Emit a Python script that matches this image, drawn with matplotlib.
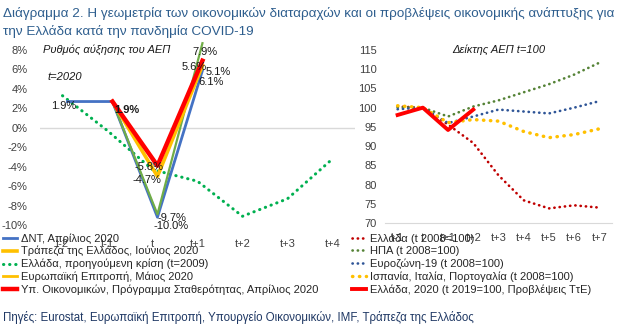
import matplotlib
matplotlib.use("Agg")
import matplotlib.pyplot as plt
from matplotlib.lines import Line2D
import numpy as np

plt.rcParams['font.family'] = ['Liberation Sans', 'DejaVu Sans']

# ---------------- data ----------------
left_cats = ["t-2", "t-1", "t", "t+1", "t+2", "t+3", "t+4"]
imf = [1.9, 1.9, -10.0, 5.1]
bog = [np.nan, 1.9, -5.8, 5.6]
ec = [np.nan, 1.9, -9.7, 7.9]
minfin = [np.nan, 1.9, -4.7, 6.1]
gr_prev = [3.3, -0.3, -4.3, -5.5, -9.1, -7.3, -3.2]

right_cats = ["t-1", "t", "t+1", "t+2", "t+3", "t+4", "t+5", "t+6", "t+7"]
gr_2008 = [100.3, 100.0, 95.6, 90.8, 82.4, 75.9, 73.8, 74.6, 74.0]
usa_2008 = [100.1, 100.0, 97.7, 100.3, 101.9, 104.0, 106.1, 108.6, 111.7]
ez_2008 = [99.6, 100.0, 96.0, 97.7, 99.5, 99.0, 98.5, 100.0, 101.7]
per_2008 = [100.5, 100.0, 96.1, 96.9, 96.5, 93.8, 92.2, 93.0, 94.5]
gr_2020 = [98.1, 100.0, 94.2, 99.5]

W, H = 622, 331
fig = plt.figure(figsize=(W / 100, H / 100), dpi=100)

def fx(px):
    return px / W

def fy(py):
    return 1 - py / H

txt = "#404040"
title_c = "#2E5E8E"
dot = (0, (0.1, 1.9))

# ---------------- left chart ----------------
lpos = [fx(40), fy(225), fx(355) - fx(40), fy(50) - fy(225)]
axL = fig.add_axes(lpos)
axL.set_xlim(-0.5, 6.5)
axL.set_ylim(-10, 8)
for s in axL.spines.values():
    s.set_visible(False)
axL.axhline(0, color="#D9D9D9", lw=1, zorder=1)
axL.set_yticks(np.arange(-10, 9, 2))
axL.set_yticklabels([f"{v}%" for v in range(-10, 9, 2)])
axL.set_xticks(range(len(left_cats)))
axL.set_xticklabels(left_cats)
axL.tick_params(axis="both", length=0, labelsize=8, colors=txt)
axL.tick_params(axis="y", pad=9)
axL.tick_params(axis="x", pad=10)
xl = np.arange(len(left_cats))
l_prev, = axL.plot(xl, gr_prev, color="#00B050", lw=2.2, ls=dot,
                   dash_capstyle="round", zorder=2,
                   label="Ελλάδα, προηγούμενη κρίση (t=2009)")

# overlay axes for the 2020 forecasts (secondary scale in original)
axS = fig.add_axes(lpos, frameon=False)
axS.set_xlim(-0.5 - 0.11, 6.5 - 0.11)
axS.set_ylim(-10.8, 7.2)
axS.set_xticks([])
axS.set_yticks([])
xs = np.arange(4)
l_imf, = axS.plot(xs, imf, color="#4472C4", lw=2.0, clip_on=False, zorder=3,
                  label="ΔΝΤ, Απρίλιος 2020")
l_ec, = axS.plot(xs, ec, color="#70AD47", lw=1.6, clip_on=False, zorder=4,
                 label="Ευρωπαϊκή Επιτροπή, Μάιος 2020")
l_bog, = axS.plot(xs, bog, color="#FFC000", lw=2.6, clip_on=False, zorder=5,
                  label="Τράπεζα της Ελλάδος, Ιούνιος 2020")
l_mf, = axS.plot(xs, minfin, color="#FF0000", lw=3.2, clip_on=False, zorder=6,
                 label="Υπ. Οικονομικών, Πρόγραμμα Σταθερότητας, Απρίλιος 2020")

def lab(ax, x, y, s, dx, dy, bold=False):
    ax.annotate(s, (x, y), xytext=(dx, dy), textcoords="offset pixels",
                ha="center", va="center", fontsize=8, color="#1a1a1a",
                fontweight="bold" if bold else "normal", zorder=10,
                annotation_clip=False)

lab(axS, 0, imf[0], f"{imf[0]:.1f}%", -4, -4.5)
lab(axS, 1, minfin[1], f"{minfin[1]:.1f}%", 14, -8.5, bold=True)
lab(axS, 2, bog[2], f"{bog[2]:.1f}%", -8, 9)
lab(axS, 2, minfin[2], f"{minfin[2]:.1f}%", -11, -14)
lab(axS, 2, ec[2], f"{ec[2]:.1f}%", 14, -4)
lab(axS, 2, imf[2], f"{imf[2]:.1f}%", 14, -9)
lab(axS, 3, ec[3], f"{ec[3]:.1f}%", 3, -9)
lab(axS, 3, bog[3], f"{bog[3]:.1f}%", -8, -1.5)
lab(axS, 3, imf[3], f"{imf[3]:.1f}%", 16, -1.6)
lab(axS, 3, minfin[3], f"{minfin[3]:.1f}%", 9, -21)

fig.text(fx(43), fy(50), "Ρυθμός αύξησης του ΑΕΠ", fontsize=8, style="italic",
         color="#1a1a1a", va="center", ha="left")
fig.text(fx(47), fy(77), "t=2020", fontsize=8, style="italic",
         color="#1a1a1a", va="center", ha="left")

# ---------------- right chart ----------------
axR = fig.add_axes([fx(385), fy(223), fx(612) - fx(385), fy(50) - fy(223)])
axR.set_xlim(-0.5, 8.5)
axR.set_ylim(70, 115)
for k, s in axR.spines.items():
    s.set_visible(k == "bottom")
axR.spines["bottom"].set_color("#D9D9D9")
axR.set_yticks(np.arange(70, 116, 5))
axR.set_xticks(range(len(right_cats)))
axR.set_xticklabels(right_cats)
axR.tick_params(axis="both", length=0, labelsize=8, colors=txt)
axR.tick_params(axis="y", pad=6)
axR.tick_params(axis="x", pad=7)
xr = np.arange(len(right_cats))
r_gr, = axR.plot(xr, gr_2008, color="#C00000", lw=1.9, ls=dot, dash_capstyle="round",
                 label="Ελλάδα (t 2008=100)")
r_us, = axR.plot(xr, usa_2008, color="#548235", lw=1.9, ls=dot, dash_capstyle="round",
                 label="ΗΠΑ (t 2008=100)")
r_ez, = axR.plot(xr, ez_2008, color="#2F5597", lw=1.9, ls=dot, dash_capstyle="round",
                 label="Ευροζώνη-19 (t 2008=100)")
r_per, = axR.plot(xr, per_2008, color="#FFC000", lw=2.5, ls=dot, dash_capstyle="round",
                  label="Ισπανία, Ιταλία, Πορτογαλία (t 2008=100)")
r_gr20, = axR.plot(np.arange(len(gr_2020)), gr_2020, color="#FF0000", lw=2.8,
                   label="Ελλάδα, 2020 (t 2019=100, Προβλέψεις ΤτΕ)")
axR.text(0.5, 1.0, "Δείκτης ΑΕΠ t=100", transform=axR.transAxes, fontsize=8,
         style="italic", color="#1a1a1a", ha="center", va="center")

# ---------------- legends ----------------
ec_proxy = Line2D([], [], color="#FFC000", lw=2)
lh = [l_imf, l_bog, l_prev, ec_proxy, l_mf]
ll = [l_imf.get_label(), l_bog.get_label(), l_prev.get_label(),
      l_ec.get_label(), l_mf.get_label()]
legL = fig.legend(lh, ll, loc="upper left", bbox_to_anchor=(fx(3), fy(233)),
                  frameon=False, fontsize=8, handlelength=1.3, handletextpad=0.3,
                  labelspacing=0.22, borderpad=0, borderaxespad=0)
for t in legL.get_texts():
    t.set_color("#262626")
rh = [r_gr, r_us, r_ez, r_per, r_gr20]
legR = fig.legend(rh, [h.get_label() for h in rh], loc="upper left",
                  bbox_to_anchor=(fx(352), fy(233)), frameon=False, fontsize=8,
                  handlelength=1.3, handletextpad=0.3, labelspacing=0.22,
                  borderpad=0, borderaxespad=0)
for t in legR.get_texts():
    t.set_color("#262626")

# ---------------- titles ----------------
fig.text(fx(3), fy(13), "Διάγραμμα 2. Η γεωμετρία των οικονομικών διαταραχών και οι "
         "προβλέψεις οικονομικής ανάπτυξης για", fontsize=9.7, color=title_c,
         ha="left", va="center")
fig.text(fx(3), fy(31), "την Ελλάδα κατά την πανδημία COVID-19", fontsize=9.7,
         color=title_c, ha="left", va="center")
fig.text(fx(3), fy(318), "Πηγές: Eurostat, Ευρωπαϊκή Επιτροπή, Υπουργείο Οικονομικών, "
         "IMF, Τράπεζα της Ελλάδος", fontsize=8.3, color="#1F3864",
         ha="left", va="center")

fig.savefig("out.png", dpi=100)
